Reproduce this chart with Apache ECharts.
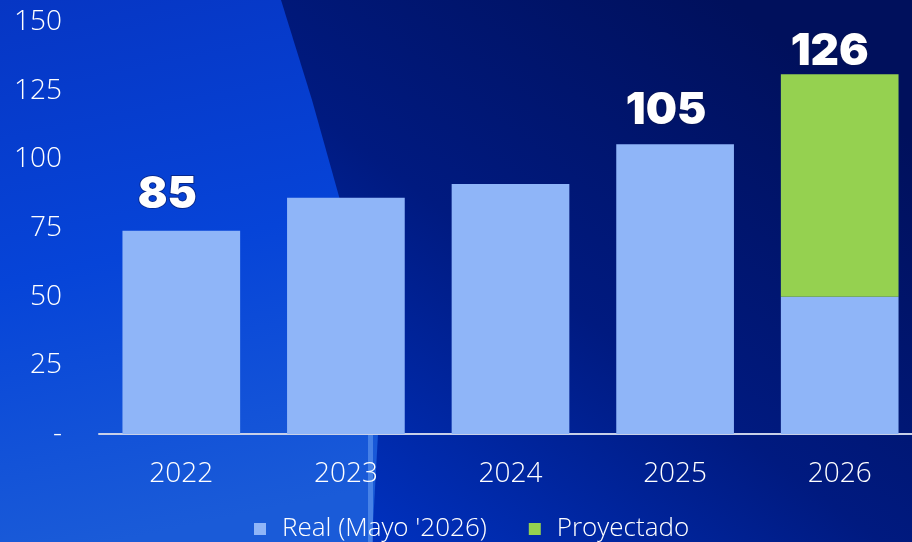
<!DOCTYPE html>
<html>
<head>
<meta charset="utf-8">
<script src="https://cdn.jsdelivr.net/npm/echarts@6/dist/echarts.min.js"></script>
<style>html,body{margin:0;padding:0;}#c{width:912px;height:542px;}</style>
</head>
<body>
<div id="c"></div>
<script>
var categories = ['2022', '2023', '2024', '2025', '2026'];
var realValues = [74, 86, 91, 105.5, 50];
var projectedValues = [null, null, null, null, 81];
var topLabels = ['85', '', '', '105', '126'];
var seriesNames = ['Real (Mayo \'2026)', 'Proyectado'];

// label placement styles (per category)
var labelOffsets = [[-14, -10], [0, 0], [0, 0], [-9, -7], [-10, 4]];

var chart = echarts.init(document.getElementById('c'), null, {renderer: 'canvas'});

var axisFont = {color: '#ffffff', fontFamily: 'Open Sans', fontWeight: 300, fontSize: 28};
var labelStyle = {
  show: true, position: 'top', distance: 4, color: '#ffffff',
  fontFamily: 'Inter', fontWeight: 900, fontSize: 44,
  textBorderColor: 'rgba(10,20,80,0.55)', textBorderWidth: 2
};

var realData = realValues.map(function (v, i) {
  var item = {value: v};
  if (topLabels[i] && projectedValues[i] == null) {
    item.label = Object.assign({}, labelStyle, {formatter: topLabels[i], offset: labelOffsets[i]});
  }
  return item;
});
var projData = projectedValues.map(function (v, i) {
  var item = {value: v};
  if (v != null && topLabels[i]) {
    item.label = Object.assign({}, labelStyle, {formatter: topLabels[i], offset: labelOffsets[i]});
  }
  return item;
});

var option = {
  backgroundColor: {
    type: 'linear', x: 0.8, y: 0, x2: 0.35, y2: 1,
    colorStops: [
      {offset: 0, color: '#00105c'},
      {offset: 0.5, color: '#001a80'},
      {offset: 1, color: '#0034c6'}
    ]
  },
  graphic: [
    {
      type: 'polygon', z: -10, silent: true,
      shape: {points: [[0, 0], [281, 0], [312, 100], [340, 200], [362, 300], [378, 434], [372, 542], [0, 542]]},
      style: {
        fill: {
          type: 'linear', x: 0, y: 0, x2: 0.3, y2: 1,
          colorStops: [
            {offset: 0, color: '#0636c4'},
            {offset: 0.5, color: '#0644d8'},
            {offset: 1, color: '#1a5bd8'}
          ]
        }
      }
    },
    {
      type: 'rect', z: -9, silent: true,
      shape: {x: 368, y: 435, width: 5, height: 107},
      style: {fill: 'rgba(140,190,255,0.4)'}
    }
  ],
  animation: false,
  grid: {left: 99, right: -10, top: 22, bottom: 108, containLabel: false, outerBoundsMode: 'none'},
  legend: {
    bottom: -5, left: 249,
    itemWidth: 12, itemHeight: 12, itemGap: 42,
    icon: 'rect',
    textStyle: {color: '#ffffff', fontFamily: 'Open Sans', fontWeight: 300, fontSize: 26, padding: [0, 0, 0, 11]},
    data: seriesNames
  },
  xAxis: {
    type: 'category', data: categories,
    axisLine: {show: true, lineStyle: {color: '#c8d0e8', width: 2}},
    axisTick: {show: false},
    axisLabel: Object.assign({}, axisFont, {margin: 26})
  },
  yAxis: {
    type: 'value', min: 0, max: 150, interval: 25,
    splitLine: {show: false},
    axisLine: {show: false},
    axisTick: {show: false},
    axisLabel: Object.assign({}, axisFont, {
      margin: 37,
      formatter: function (v) { return v === 0 ? '-' : String(v); }
    })
  },
  series: [
    {
      name: seriesNames[0], type: 'bar', stack: 'total',
      barCategoryGap: '28.5%',
      itemStyle: {color: '#8fb5f8', borderWidth: 0},
      data: realData
    },
    {
      name: seriesNames[1], type: 'bar', stack: 'total',
      barCategoryGap: '28.5%',
      itemStyle: {color: '#95d150', borderWidth: 0},
      data: projData
    }
  ]
};
chart.setOption(option);
</script>
</body>
</html>
